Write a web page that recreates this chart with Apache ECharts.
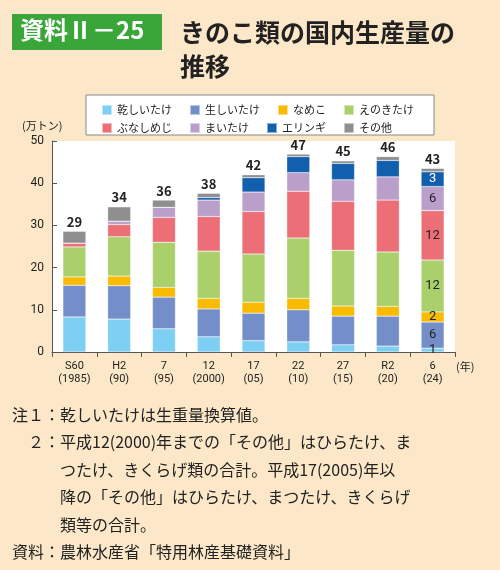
<!DOCTYPE html>
<html><head><meta charset="utf-8">
<script src="https://cdn.jsdelivr.net/npm/echarts@6/dist/echarts.min.js"></script>
<style>html,body{margin:0;background:#fce8c8}#c{width:500px;height:570px}</style>
</head><body><div id="c"></div>
<script>
// ── Data ──────────────────────────────
const years = ['S60\n(1985)', 'H2\n(90)', '7\n(95)', '12\n(2000)', '17\n(05)', '22\n(10)', '27\n(15)', 'R2\n(20)', '6\n(24)'];
const totals = [29, 34, 36, 38, 42, 47, 45, 46, 43];
const hoshi   = [8.3, 7.8, 5.5, 3.6, 2.7, 2.4, 1.7, 1.4, 0.9];
const nama    = [7.5, 7.9, 7.5, 6.6, 6.5, 7.6, 6.8, 7.1, 6.2];
const nameko  = [2.0, 2.3, 2.3, 2.5, 2.6, 2.7, 2.4, 2.3, 2.4];
const enoki   = [7.1, 9.3, 10.7, 11.2, 11.4, 14.3, 13.2, 12.9, 12.3];
const bunashi = [0.9, 2.9, 5.9, 8.2, 10.1, 11.1, 11.6, 12.3, 11.7];
const maitake = [0, 0.8, 2.4, 3.9, 4.6, 4.4, 5.1, 5.5, 5.7];
const eringi  = [0, 0, 0, 0.6, 3.4, 3.8, 3.9, 3.9, 3.5];
const sonota  = [2.8, 3.4, 1.7, 1.0, 0.7, 0.6, 0.6, 0.9, 0.8];
const lastLabels = ['1', '6', '2', '12', '12', '6', '3'];

const seriesDefs = [
  ['乾しいたけ', hoshi, '#7ecff4'],
  ['生しいたけ', nama, '#738ec8'],
  ['なめこ', nameko, '#f8bb00'],
  ['えのきたけ', enoki, '#a9d06a'],
  ['ぶなしめじ', bunashi, '#ec6e76'],
  ['まいたけ', maitake, '#bb9fcb'],
  ['エリンギ', eringi, '#125fae'],
  ['その他', sonota, '#8f8f8f']
];

const series = seriesDefs.map(function (d, i) {
  const s = {
    name: d[0], type: 'bar', stack: 'all', barWidth: 23, data: d[1],
    itemStyle: { color: d[2], borderColor: 'rgba(255,255,255,0.5)', borderWidth: 0.5 },
    label: {
      show: true, position: 'inside', fontSize: 13, fontFamily: 'Roboto',
      color: i === 6 ? '#fff' : '#222',
      formatter: function (p) { return p.dataIndex === 8 && i < 7 ? lastLabels[i] : ''; }
    }
  };
  if (i === 7) {
    s.label = {
      show: true, position: 'top', fontSize: 13, fontWeight: 'bold', color: '#222', distance: 3,
      formatter: function (p) { return totals[p.dataIndex]; }
    };
  }
  return s;
});

const legendText = { fontSize: 11, color: '#222', fontFamily: 'Noto Sans CJK JP' };
const chart = echarts.init(document.getElementById('c'));
chart.setOption({
  animation: false,
  backgroundColor: '#fce8c8',
  textStyle: { fontFamily: 'Noto Sans CJK JP' },
  graphic: [
    { type: 'rect', shape: { x: 52, y: 141, width: 403, height: 211 }, style: { fill: '#fff' }, z: -10 },
    { type: 'rect', shape: { x: 86, y: 95, width: 348, height: 40 }, style: { fill: '#fff', stroke: '#888', lineWidth: 1 }, z: -10 },
    { type: 'rect', shape: { x: 12, y: 14, width: 150, height: 36 }, style: { fill: '#3aa639' } },
    { type: 'text', left: 20, top: 18, style: { text: '資料Ⅱ－25', fill: '#fff', font: 'bold 24px "Noto Sans CJK JP"' } },
    { type: 'text', left: 180, top: 15, style: { text: 'きのこ類の国内生産量の\n推移', fill: '#222', font: 'bold 25px "Noto Sans CJK JP"', lineHeight: 34 } },
    { type: 'text', left: 22, top: 120, style: { text: '(万トン)', fill: '#222', font: '11px "Noto Sans CJK JP"' } },
    { type: 'text', left: 456, top: 361, style: { text: '(年)', fill: '#222', font: '11px "Noto Sans CJK JP"' } },
    { type: 'text', left: 12, top: 401, style: {
      text: '注１：乾しいたけは生重量換算値。\n　２：平成12(2000)年までの「その他」はひらたけ、ま\n　　　つたけ、きくらげ類の合計。平成17(2005)年以\n　　　降の「その他」はひらたけ、まつたけ、きくらげ\n　　　類等の合計。\n資料：農林水産省「特用林産基礎資料」',
      fill: '#222', font: '16px "Noto Sans CJK JP"', lineHeight: 27.5 } }
  ],
  legend: [
    { left: 96, top: 99, itemWidth: 10, itemHeight: 10, itemGap: 17, textStyle: legendText, icon: 'rect',
      data: ['乾しいたけ', '生しいたけ', 'なめこ', 'えのきたけ'] },
    { left: 96, top: 117, itemWidth: 10, itemHeight: 10, itemGap: 17, textStyle: legendText, icon: 'rect',
      data: ['ぶなしめじ', 'まいたけ', 'エリンギ', 'その他'] }
  ],
  grid: { left: 52, right: 45, top: 141, bottom: 218 },
  xAxis: {
    type: 'category', data: years,
    axisLine: { lineStyle: { color: '#555' } },
    axisTick: { show: true, length: 5, lineStyle: { color: '#555' } },
    axisLabel: { color: '#222', fontSize: 11, lineHeight: 13, fontFamily: 'Roboto' }
  },
  yAxis: {
    type: 'value', min: 0, max: 50, interval: 10,
    axisLine: { show: true, lineStyle: { color: '#555' } },
    axisTick: { show: true, inside: true, length: 5, lineStyle: { color: '#555' } },
    splitLine: { show: false },
    axisLabel: { color: '#222', fontSize: 12, fontFamily: 'Roboto' }
  },
  series: series
});
</script></body></html>
